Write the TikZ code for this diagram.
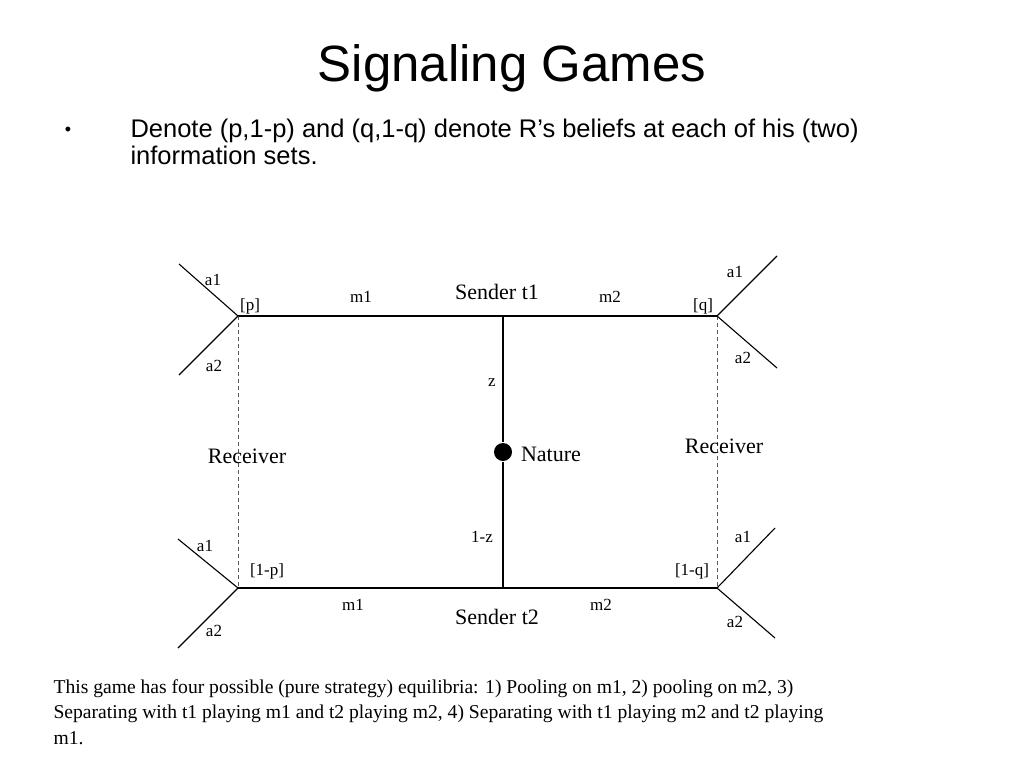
\documentclass[tikz,border=0pt]{standalone}
\usepackage{fontspec}
\setmainfont{Liberation Serif}
\setsansfont{Liberation Sans}
\begin{document}
\begin{tikzpicture}[x=1pt,y=-1pt, line width=1.1pt]
  \tikzset{
    lbl/.style={font=\fontsize{17}{19}\selectfont, inner sep=0pt},
    player/.style={font=\fontsize{22}{24}\selectfont, inner sep=0pt},
    infoset/.style={black!65, line width=0.9pt, dash pattern=on 4pt off 3pt},
  }
  \useasboundingbox (0,0) rectangle (1024,768);

  % title and bullet
  \node[font=\sffamily\fontsize{51}{56}\selectfont] at (512,68) (title) {Signaling Games};
  \node[font=\sffamily\fontsize{18}{20}\selectfont] at (68,131) (bul) {\textbullet};
  \node[font=\sffamily\fontsize{25.5}{27}\selectfont, anchor=north west, align=left, inner sep=0pt] at (130,118) (txt)
    {Denote (p,1-p) and (q,1-q) denote R’s beliefs at each of his (two)\\information sets.};

  % tree nodes
  \coordinate (st1) at (503,316);
  \coordinate (st2) at (503,588);
  \coordinate (rp)  at (238,316);
  \coordinate (rq)  at (717,316);
  \coordinate (rnp) at (238,588);
  \coordinate (rnq) at (717,588);
  \node[circle, fill=black, inner sep=0pt, minimum size=18pt] at (503,452) (nat) {};

  \coordinate (rpa1) at (179,264);
  \coordinate (rpa2) at (179,375);
  \coordinate (rqa1) at (777,256);
  \coordinate (rqa2) at (777,368);
  \coordinate (rnpa1) at (178,539);
  \coordinate (rnpa2) at (178,648);
  \coordinate (rnqa1) at (775,528);
  \coordinate (rnqa2) at (775,638);

  \draw (rp) -- (st1) -- (rq);
  \draw (rnp) -- (st2) -- (rnq);
  \draw (st1) -- (nat) -- (st2);
  \draw[infoset] (rp) -- (rnp);
  \draw[infoset] (rq) -- (rnq);
  \draw (rpa1) -- (rp) -- (rpa2);
  \draw (rqa1) -- (rq) -- (rqa2);
  \draw (rnpa1) -- (rnp) -- (rnpa2);
  \draw (rnqa1) -- (rnq) -- (rnqa2);

  % labels
  \node[player] at (497,292) (ls1) {Sender t1};
  \node[player] at (497,617) (ls2) {Sender t2};
  \node[player] at (551,454) (lnat) {Nature};
  \node[player] at (247,456) (lrl) {Receiver};
  \node[player] at (724,446) (lrr) {Receiver};
  \node[lbl] at (361,297) {m1};
  \node[lbl] at (610,297) {m2};
  \node[lbl] at (353,605) {m1};
  \node[lbl] at (601,605) {m2};
  \node[lbl] at (250,306) {[p]};
  \node[lbl] at (703,306) {[q]};
  \node[lbl] at (267,571) {[1-p]};
  \node[lbl] at (692,571) {[1-q]};
  \node[lbl] at (492,383) {z};
  \node[lbl] at (482,537) {1-z};
  \node[lbl] at (213,280) {a1};
  \node[lbl] at (214,366) {a2};
  \node[lbl] at (735,272) {a1};
  \node[lbl] at (743,358) {a2};
  \node[lbl] at (205,546) {a1};
  \node[lbl] at (214,631) {a2};
  \node[lbl] at (743,537) {a1};
  \node[lbl] at (735,622) {a2};

  % note
  \node[font=\fontsize{19.6}{25.5}\selectfont, anchor=north west, align=left, inner sep=0pt] at (53,679) (note)
    {This game has four possible (pure strategy) equilibria: 1) Pooling on m1, 2) pooling on m2, 3)\\
     Separating with t1 playing m1 and t2 playing m2, 4) Separating with t1 playing m2 and t2 playing\\
     m1.};
\end{tikzpicture}
\end{document}
